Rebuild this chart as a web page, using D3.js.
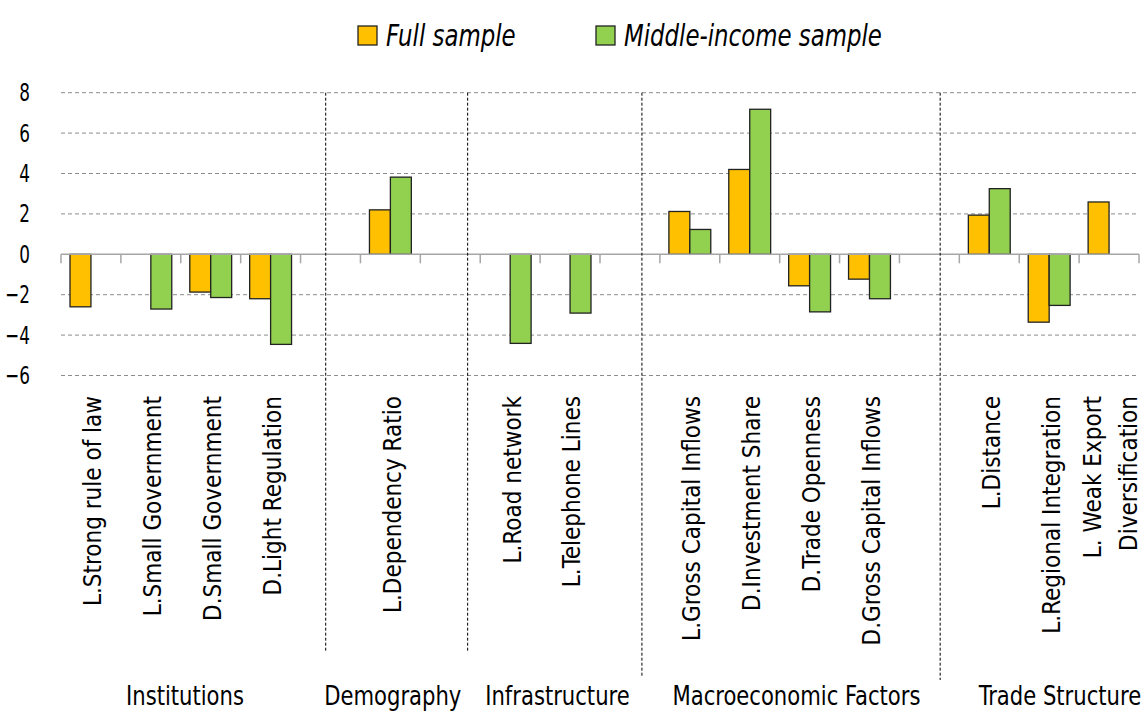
<!DOCTYPE html>
<html>
<head>
<meta charset="utf-8">
<script src="https://cdn.jsdelivr.net/npm/d3@7"></script>
<style>
  body { margin: 0; background: #fff; }
  svg text { font-family: "DejaVu Sans Condensed", "Liberation Sans Narrow", "Roboto", sans-serif; fill: #000; }
</style>
</head>
<body>
<div id="chart"></div>
<script>
// categories ("" = empty gap slot, "|" = line break)
const categories = [
  "L.Strong rule of law", "L.Small Government", "D.Small Government", "D.Light Regulation", "",
  "L.Dependency Ratio", "",
  "L.Road network", "L.Telephone Lines", "",
  "L.Gross Capital Inflows", "D.Investment Share", "D.Trade Openness", "D.Gross Capital Inflows", "",
  "L.Distance", "L.Regional Integration", "L. Weak Export|Diversification"
];
const fullSample = [-2.6, null, -1.87, -2.2, null, 2.2, null, null, null, null, 2.12, 4.2, -1.56, -1.23, null, 1.94, -3.36, 2.59];
const middleIncome = [null, -2.71, -2.14, -4.46, null, 3.82, null, -4.41, -2.91, null, 1.23, 7.18, -2.85, -2.2, null, 3.25, -2.53, null];
const seriesNames = ["Full sample", "Middle-income sample"];
const yTicks = [-6, -4, -2, 0, 2, 4, 6, 8];
const groupNames = ["Institutions", "Demography", "Infrastructure", "Macroeconomic Factors", "Trade Structure"];

const width = 1143, height = 713;
const colors = {"Full sample": "#FFC000", "Middle-income sample": "#92D050"};

// squeeze text horizontally (no narrow font available)
function squeeze(sel, sx) {
    sel.each(function() {
        const t = d3.select(this);
        const x0 = +t.attr("x") || 0;
        t.attr("x", x0 / sx).attr("transform", `scale(${sx},1)`);
    });
}

const svg = d3.select("#chart")
    .append("svg")
    .attr("width", width)
    .attr("height", height);

const x = d3.scaleBand()
    .domain(d3.range(categories.length))
    .range([61, 1139]);

const xs = d3.scaleBand()
    .domain(seriesNames)
    .range([0, x.bandwidth()])
    .paddingOuter(0.43);

const y = d3.scaleLinear()
    .domain([-6, 8])
    .range([375.5, 92.7]);

// continuous slot scale for dividers / group labels
const slot = d3.scaleLinear().domain([0, categories.length]).range(x.range());

// gridlines
svg.append("g")
    .selectAll("line")
    .data(yTicks.filter(d => d !== 0))
    .enter().append("line")
    .attr("x1", 61).attr("x2", 1139)
    .attr("y1", d => y(d)).attr("y2", d => y(d))
    .attr("stroke", "#8c8c8c")
    .attr("stroke-width", 1)
    .attr("stroke-dasharray", "4,3");

// y axis labels
const yAxis = svg.append("g")
    .attr("transform", "translate(61,0)")
    .call(d3.axisLeft(y).tickValues(yTicks).tickSize(0).tickPadding(31));
yAxis.select(".domain").remove();
yAxis.selectAll("text")
    .style("font-size", "25px")
    .attr("fill", "#000")
    .call(squeeze, 0.75);

// bars
const rows = [];
categories.forEach((c, i) => {
    if (fullSample[i] != null) rows.push({i, s: seriesNames[0], v: fullSample[i]});
    if (middleIncome[i] != null) rows.push({i, s: seriesNames[1], v: middleIncome[i]});
});

svg.append("g")
    .selectAll("rect")
    .data(rows)
    .enter().append("rect")
    .attr("x", d => x(d.i) + xs(d.s))
    .attr("y", d => y(Math.max(0, d.v)))
    .attr("width", xs.bandwidth())
    .attr("height", d => Math.abs(y(d.v) - y(0)))
    .attr("fill", d => colors[d.s])
    .attr("stroke", "#222")
    .attr("stroke-width", 1.3);

// zero line + ticks at slot boundaries
svg.append("line")
    .attr("x1", 61).attr("x2", 1139)
    .attr("y1", y(0)).attr("y2", y(0))
    .attr("stroke", "#a6a6a6")
    .attr("stroke-width", 1.5);

svg.append("g")
    .selectAll("line")
    .data(d3.range(categories.length + 1))
    .enter().append("line")
    .attr("x1", d => slot(d)).attr("x2", d => slot(d))
    .attr("y1", y(0)).attr("y2", y(0) + 9)
    .attr("stroke", "#a6a6a6")
    .attr("stroke-width", 1.5);

// category labels, rotated
const labels = svg.append("g")
    .selectAll("text")
    .data(categories.map((c, i) => ({c, i})).filter(d => d.c !== ""))
    .enter().append("text")
    .attr("transform", d => `translate(${x(d.i) + x.bandwidth() / 2 + 2},396) rotate(-90)`)
    .attr("text-anchor", "end")
    .style("font-size", "24px");

labels.each(function(d) {
    const lines = d.c.split("|");
    const t = d3.select(this);
    lines.forEach((l, k) => {
        t.append("tspan")
            .attr("x", 0)
            .attr("dy", k === 0 ? (lines.length > 1 ? "-0.4em" : "0.35em") : "1.5em")
            .text(l);
    });
});

// group dividers (in slot units)
const dividers = [
    {at: 4.42, bottom: 651},
    {at: 6.79, bottom: 651},
    {at: 9.7, bottom: 676},
    {at: 14.68, bottom: 680}
];
svg.append("g")
    .selectAll("line")
    .data(dividers)
    .enter().append("line")
    .attr("x1", d => slot(d.at)).attr("x2", d => slot(d.at))
    .attr("y1", y(8)).attr("y2", d => d.bottom)
    .attr("stroke", "#000")
    .attr("stroke-width", 1)
    .attr("stroke-dasharray", "3,2");

// group labels (centres in slot units)
const groupCentres = [2.07, 5.54, 8.29, 12.28, 16.68];
svg.append("g")
    .selectAll("text")
    .data(groupNames)
    .enter().append("text")
    .attr("x", (d, i) => slot(groupCentres[i]))
    .attr("y", 705)
    .attr("text-anchor", "middle")
    .style("font-size", "27px")
    .text(d => d)
    .call(squeeze, 0.87);

// legend
const legend = svg.append("g")
    .selectAll("g")
    .data(seriesNames)
    .enter().append("g")
    .attr("transform", (d, i) => `translate(${i === 0 ? 358 : 596},26)`);
legend.append("rect")
    .attr("width", 19).attr("height", 19)
    .attr("fill", d => colors[d])
    .attr("stroke", "#222")
    .attr("stroke-width", 1.3);
legend.append("text")
    .attr("x", 28).attr("y", 20)
    .style("font-size", "31px")
    .style("font-style", "italic")
    .text(d => d)
    .call(squeeze, 0.82);
</script>
</body>
</html>
